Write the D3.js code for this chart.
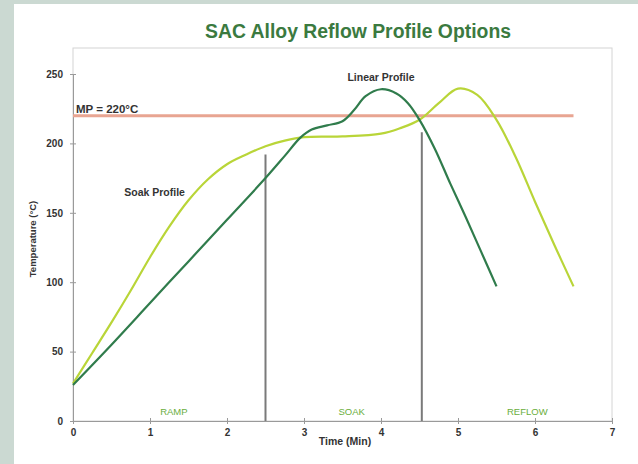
<!DOCTYPE html>
<html lang="en">
<head>
  <meta charset="UTF-8">
  <title>SAC Alloy Reflow Profile Options</title>
  <style>
    body { margin: 0; background: #cbd9d2; }
    svg { display: block; font-family: "Liberation Sans", Arial, sans-serif; }
    .axis path, .axis line { stroke: #9a9a9a; }
    .axis text { font-size: 10px; font-weight: bold; fill: #333; }
  </style>
</head>
<body>
  <script src="https://cdn.jsdelivr.net/npm/d3@7"></script>
  <script>
    // chart data
    const xTicks = [0, 1, 2, 3, 4, 5, 6, 7];
    const yTicks = [0, 50, 100, 150, 200, 250];

    const linearTime = [0, 0.5, 1, 1.5, 2, 2.5, 2.75, 2.95, 3.1, 3.3, 3.5, 3.65, 3.8, 4.0, 4.2, 4.35, 4.5, 4.7, 4.9, 5.1, 5.3, 5.5];
    const linearTemp = [26, 55, 85, 115, 145, 175, 191, 204, 210, 213, 216, 224, 234, 239, 236, 229, 217, 196, 171, 147, 122, 97];

    const soakTime = [0, 0.25, 0.5, 0.75, 1, 1.25, 1.5, 1.75, 2, 2.25, 2.5, 2.75, 3, 3.5, 4, 4.25, 4.5, 4.75, 5, 5.25, 5.5, 5.75, 6, 6.25, 6.5];
    const soakTemp = [27, 49, 71, 94, 118, 140, 159, 174, 185, 192, 198, 202, 204.5, 205, 207, 211, 217, 229, 239.5, 235, 217, 190, 158, 127, 97];

    const meltPoint = 220;
    const meltEnd = 6.5;

    const phaseBounds = [2.5, 4.53];
    const phaseTops = [192, 208];
    const phaseNames = ['RAMP', 'SOAK', 'REFLOW'];
    const phaseCenters = [1.31, 3.62, 5.9];

    const WIDTH = 638, HEIGHT = 464;
    const margin = {top: 48, right: 26, bottom: 43, left: 73};
    const innerW = WIDTH - margin.left - margin.right;
    const innerH = HEIGHT - margin.top - margin.bottom;

    const svg = d3.select('body').append('svg')
      .attr('width', WIDTH)
      .attr('height', HEIGHT);

    // white panel
    svg.append('rect')
      .attr('x', 14).attr('y', 4)
      .attr('width', WIDTH - 14).attr('height', HEIGHT - 4)
      .attr('fill', '#fff');

    svg.append('text')
      .attr('x', 205).attr('y', 38)
      .attr('font-size', 20).attr('font-weight', 'bold')
      .attr('textLength', 306).attr('lengthAdjust', 'spacingAndGlyphs')
      .attr('fill', '#3b7a3f')
      .text('SAC Alloy Reflow Profile Options');

    const x = d3.scaleLinear().domain([0, 7]).range([0, innerW]);
    const y = d3.scaleLinear().domain([0, 250]).range([innerH, innerH - 347]);

    const g = svg.append('g').attr('transform', `translate(${margin.left},${margin.top})`);

    // plot frame
    g.append('rect')
      .attr('width', innerW).attr('height', innerH)
      .attr('fill', 'none').attr('stroke', '#d4d4d4');

    g.append('g')
      .attr('class', 'axis')
      .attr('transform', `translate(0,${innerH})`)
      .call(d3.axisBottom(x).tickValues(xTicks).tickFormat(d3.format('d')).tickSize(3).tickPadding(5).tickSizeOuter(0))
      .call(s => s.selectAll('.tick line').attr('y1', -3));

    g.append('g')
      .attr('class', 'axis')
      .call(d3.axisLeft(y).tickValues(yTicks).tickSize(3).tickPadding(7).tickSizeOuter(0))
      .call(s => s.selectAll('.tick line').attr('x1', 3));

    // axis titles
    svg.append('text')
      .attr('x', 345).attr('y', 445)
      .attr('text-anchor', 'middle')
      .attr('font-size', 10.5).attr('font-weight', 'bold').attr('fill', '#333')
      .text('Time (Min)');

    svg.append('text')
      .attr('transform', `translate(36,239) rotate(-90)`)
      .attr('text-anchor', 'middle')
      .attr('font-size', 9.5).attr('font-weight', 'bold').attr('fill', '#333')
      .text('Temperature (°C)');

    // melting point line
    g.append('line')
      .attr('x1', x(0)).attr('x2', x(meltEnd))
      .attr('y1', y(meltPoint)).attr('y2', y(meltPoint))
      .attr('stroke', '#e8a592').attr('stroke-width', 3);

    g.append('text')
      .attr('x', 3).attr('y', y(meltPoint) - 3)
      .attr('font-size', 11.5).attr('font-weight', 'bold').attr('fill', '#333')
      .text('MP = 220°C');

    // phase boundaries
    g.selectAll('.phase-line')
      .data(phaseBounds)
      .join('line')
      .attr('class', 'phase-line')
      .attr('x1', d => x(d)).attr('x2', d => x(d))
      .attr('y1', y(0)).attr('y2', (d, i) => y(phaseTops[i]))
      .attr('stroke', '#7a7a7a').attr('stroke-width', 2);

    g.selectAll('.phase-name')
      .data(phaseNames)
      .join('text')
      .attr('class', 'phase-name')
      .attr('x', (d, i) => x(phaseCenters[i]))
      .attr('y', y(0) - 6)
      .attr('text-anchor', 'middle')
      .attr('font-size', 9.5).attr('fill', '#6aae3c')
      .text(d => d);

    const line = d3.line()
      .x(d => x(d[0]))
      .y(d => y(d[1]))
      .curve(d3.curveCatmullRom.alpha(0.5));

    g.append('path')
      .datum(d3.zip(soakTime, soakTemp))
      .attr('fill', 'none')
      .attr('stroke', '#b9d538').attr('stroke-width', 2.2)
      .attr('d', line);

    g.append('path')
      .datum(d3.zip(linearTime, linearTemp))
      .attr('fill', 'none')
      .attr('stroke', '#307c4c').attr('stroke-width', 2.2)
      .attr('d', line);

    // curve labels
    g.append('text')
      .attr('x', x(4.0)).attr('y', 33)
      .attr('text-anchor', 'middle')
      .attr('font-size', 10.5).attr('font-weight', 'bold').attr('fill', '#333')
      .text('Linear Profile');

    g.append('text')
      .attr('x', x(1.06)).attr('y', 148)
      .attr('text-anchor', 'middle')
      .attr('font-size', 10.5).attr('font-weight', 'bold').attr('fill', '#333')
      .text('Soak Profile');
  </script>
</body>
</html>
